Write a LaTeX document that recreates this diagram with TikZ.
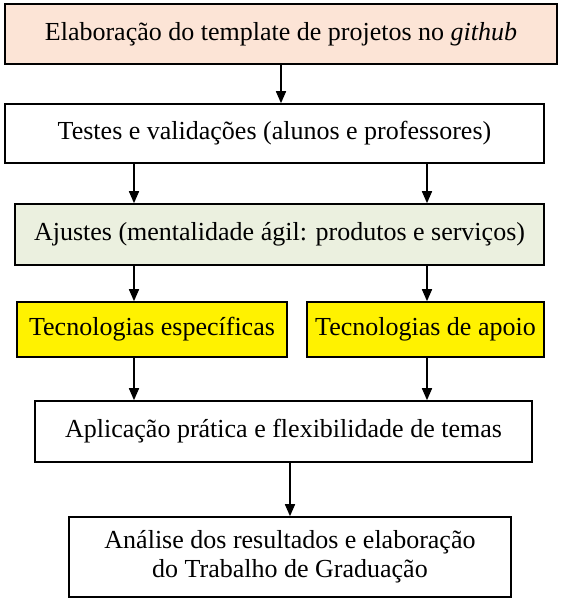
\documentclass[tikz,border=0pt]{standalone}
\usepackage{fontspec}
\setmainfont{Liberation Serif}
\usetikzlibrary{arrows.meta}
\definecolor{pessego}{HTML}{FCE4D6}
\definecolor{verdecinza}{HTML}{EBF0DF}

\begin{document}
\begin{tikzpicture}[x=1pt, y=-1pt,
  caixa/.style={draw, line width=1.6pt, inner sep=0pt, align=center, font=\fontsize{26}{29}\selectfont},
  seta/.style={line width=1.6pt, -{Triangle[width=10pt, length=12pt]}}]
\useasboundingbox (0,0) rectangle (564,614);
\coordinate (colL) at (134,0);
\coordinate (colR) at (427,0);

\node [caixa, fill=pessego, minimum width=552pt, minimum height=60pt] (template) at (281,34) {Elaboração do template de projetos no \textit{github}};
\node [caixa, minimum width=539pt, minimum height=59pt] (testes) at (274.5,133.5) {Testes e validações (alunos e professores)};
\node [caixa, fill=verdecinza, minimum width=529pt, minimum height=61pt] (ajustes) at (279.5,234.5) {Ajustes (mentalidade ágil: produtos e serviços)};
\node [caixa, fill=yellow, minimum width=270pt, minimum height=55pt] (especificas) at (152,329.5) {Tecnologias específicas};
\node [caixa, fill=yellow, minimum width=237pt, minimum height=55pt] (apoio) at (425.5,329.5) {Tecnologias de apoio};
\node [caixa, minimum width=497pt, minimum height=61pt] (aplicacao) at (283.5,431.5) {Aplicação prática e flexibilidade de temas};
\node [caixa, minimum width=442pt, minimum height=80pt] (analise) at (290,557) {Análise dos resultados e elaboração\\do Trabalho de Graduação};

\draw [seta] (template.south) -- (testes.north -| template.south);
\draw [seta] (testes.south -| colL) -- (ajustes.north -| colL);
\draw [seta] (testes.south -| colR) -- (ajustes.north -| colR);
\draw [seta] (ajustes.south -| colL) -- (especificas.north -| colL);
\draw [seta] (ajustes.south -| colR) -- (apoio.north -| colR);
\draw [seta] (especificas.south -| colL) -- (aplicacao.north -| colL);
\draw [seta] (apoio.south -| colR) -- (aplicacao.north -| colR);
\draw [seta] (aplicacao.south -| analise.north) -- (analise.north);
\end{tikzpicture}
\end{document}
